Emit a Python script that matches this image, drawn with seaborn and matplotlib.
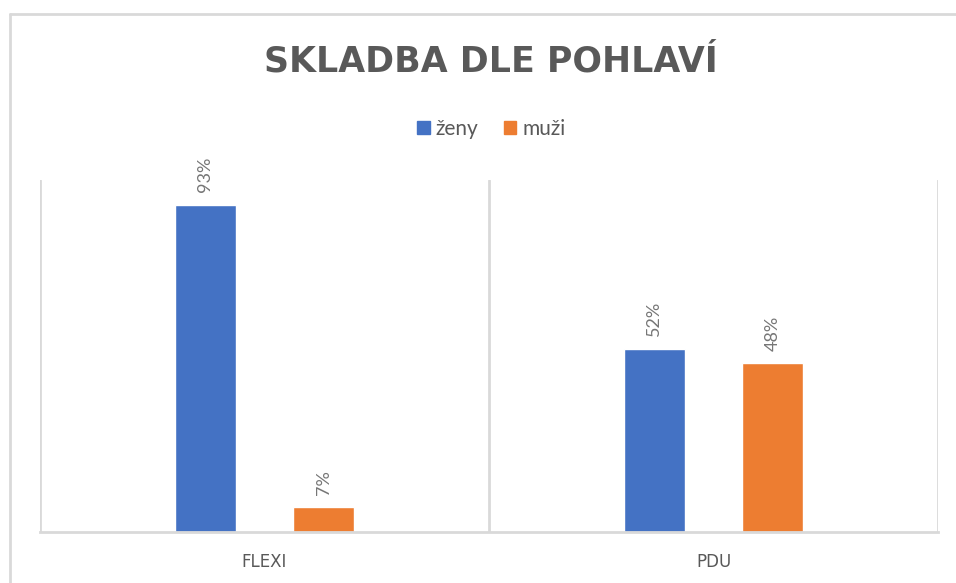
import matplotlib
matplotlib.use('Agg')
import matplotlib.pyplot as plt
import seaborn as sns
import pandas as pd
from matplotlib.lines import Line2D

# data
categories = ['FLEXI', 'PDU']
groups = ['ženy', 'muži']
zeny = [93, 52]
muzi = [7, 48]
colors = ['#4472C4', '#ED7D31']

df = pd.DataFrame({
    'kategorie': categories * 2,
    'pohlavi': [groups[0]] * len(categories) + [groups[1]] * len(categories),
    'podil': zeny + muzi,
})

sns.set_style('white')
plt.rcParams['font.family'] = ['Lato', 'DejaVu Sans']
text_gray = '#595959'
grid_gray = '#D9D9D9'

fig = plt.figure(figsize=(9.56, 5.83), dpi=100)
ax = fig.add_axes([40 / 956, 51 / 583, 898 / 956, 352 / 583])

sns.barplot(data=df, x='kategorie', y='podil', hue='pohlavi',
            order=categories, hue_order=groups, palette=colors,
            saturation=1, width=0.526, gap=0.48, ax=ax, legend=True)

ax.set_xlim(-0.5, 1.5)
ax.set_ylim(0, 100)
ax.set_xlabel('')
ax.set_ylabel('')
ax.set_yticks([])
for s in ['top', 'right', 'left']:
    ax.spines[s].set_visible(False)
ax.spines['bottom'].set_color(grid_gray)
ax.spines['bottom'].set_linewidth(2)
for xv in [-0.5, 0.5, 1.5]:
    ax.axvline(xv, color=grid_gray, lw=2, zorder=0)

ax.tick_params(axis='x', length=0, pad=15, colors=text_gray)
for lbl in ax.get_xticklabels():
    lbl.set_fontfamily('DejaVu Sans')
    lbl.set_fontsize(12)

# value labels
for cont in ax.containers:
    ax.bar_label(cont, labels=[f'{v:.0f}%' for v in cont.datavalues],
                 rotation=90, padding=9, fontsize=13, color='#767676')

# legend
ax.get_legend().remove()
handles = [plt.Rectangle((0, 0), 1, 1, color=c) for c in colors]
fig.legend(handles, groups, loc='center', bbox_to_anchor=(0.514, 0.779),
           ncol=2, frameon=False, fontsize=15, handlelength=0.6,
           handleheight=0.6, handletextpad=0.3, columnspacing=1.2,
           labelcolor=text_gray)

fig.text(0.513, 0.894, 'SKLADBA DLE POHLAVÍ', ha='center', va='center',
         fontsize=25, fontweight='bold', color=text_gray,
         family='DejaVu Sans')

# chart frame (top and left edges)
fig.add_artist(Line2D([10 / 956, 1], [1 - 14 / 583, 1 - 14 / 583],
                      color=grid_gray, lw=2))
fig.add_artist(Line2D([10 / 956, 10 / 956], [0, 1 - 14 / 583],
                      color=grid_gray, lw=2))

plt.savefig('out.png', dpi=100)
